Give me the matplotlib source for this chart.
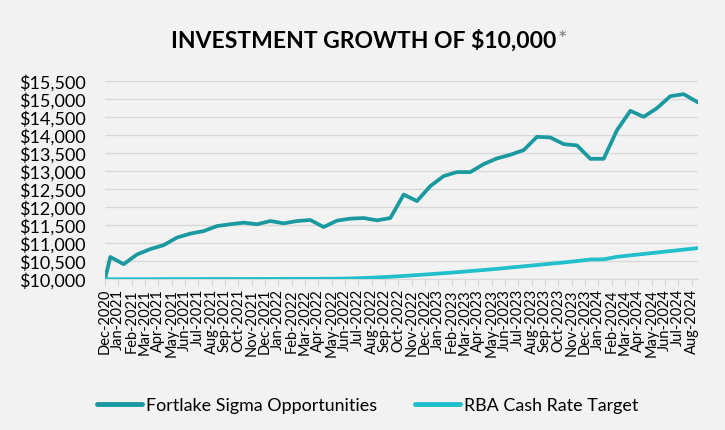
import matplotlib
matplotlib.use("Agg")
import matplotlib.pyplot as plt
import numpy as np

plt.rcParams['font.family'] = ['Lato', 'DejaVu Sans']

months = ['Dec-2020', 'Jan-2021', 'Feb-2021', 'Mar-2021', 'Apr-2021', 'May-2021', 'Jun-2021',
          'Jul-2021', 'Aug-2021', 'Sep-2021', 'Oct-2021', 'Nov-2021', 'Dec-2021', 'Jan-2022',
          'Feb-2022', 'Mar-2022', 'Apr-2022', 'May-2022', 'Jun-2022', 'Jul-2022', 'Aug-2022',
          'Sep-2022', 'Oct-2022', 'Nov-2022', 'Dec-2022', 'Jan-2023', 'Feb-2023', 'Mar-2023',
          'Apr-2023', 'May-2023', 'Jun-2023', 'Jul-2023', 'Aug-2023', 'Sep-2023', 'Oct-2023',
          'Nov-2023', 'Dec-2023', 'Jan-2024', 'Feb-2024', 'Mar-2024', 'Apr-2024', 'May-2024',
          'Jun-2024', 'Jul-2024', 'Aug-2024']

start_value = 10000

fortlake = [10620, 10420, 10690, 10840, 10950, 11160, 11270, 11340, 11480, 11530,
            11575, 11530, 11620, 11556, 11620, 11648, 11453, 11630, 11686, 11703,
            11639, 11703, 12355, 12175, 12592, 12870, 12981, 12981, 13203, 13361,
            13462, 13592, 13961, 13944, 13758, 13722, 13350, 13350, 14147, 14684,
            14517, 14759, 15092, 15148, 14934]

rba = [10001, 10002, 10003, 10003, 10004, 10005, 10006, 10007, 10008, 10008,
       10009, 10010, 10011, 10012, 10013, 10013, 10014, 10017, 10024, 10035,
       10051, 10071, 10093, 10117, 10143, 10169, 10197, 10228, 10258, 10291,
       10326, 10361, 10397, 10432, 10468, 10506, 10550, 10555, 10625, 10665,
       10705, 10745, 10785, 10825, 10865]

bg = '#F2F2F2'
grid_col = '#D9D9D9'
teal = '#1A9AA0'
cyan = '#1FBFCB'

# month-end points sit a little past each tick, series starts on the first tick
x_pts = np.concatenate([[0], np.arange(len(months)) + 0.4])

fig = plt.figure(figsize=(7.25, 4.3), dpi=100, facecolor=bg)
ax = fig.add_axes([0.1448, 0.3505, 0.8175, 0.46])
ax.set_facecolor(bg)

ax.plot(x_pts, [start_value] + fortlake, color=teal, lw=2.7, label='Fortlake Sigma Opportunities',
        solid_joinstyle='round', zorder=3)
ax.plot(x_pts, [start_value] + rba, color=cyan, lw=2.7, label='RBA Cash Rate Target',
        solid_joinstyle='round', zorder=3)

ax.set_xlim(0, 44.45)
ax.set_ylim(10000, 15500)
ax.set_yticks(np.arange(10000, 15501, 500))
ax.set_yticklabels(['${:,.0f}'.format(v) for v in np.arange(10000, 15501, 500)], fontsize=13)
ax.set_xticks(np.arange(len(months)))
ax.set_xticklabels(months, rotation=90, fontsize=10.5)

ax.grid(axis='y', color=grid_col, lw=1)
ax.set_axisbelow(True)
for s in ['top', 'right', 'left']:
    ax.spines[s].set_visible(False)
ax.spines['bottom'].set_color(grid_col)
ax.tick_params(axis='y', length=0, pad=14, colors='#000000')
ax.tick_params(axis='x', length=5, color=grid_col, pad=2)

title = fig.text(0.236, 0.905, 'INVESTMENT GROWTH OF $10,000', fontsize=16.5, fontweight='bold',
                 ha='left', va='center')
ax.annotate('*', xy=(1, 0.55), xycoords=title, xytext=(1, 0), textcoords='offset points',
            fontsize=16, color='#7F7F7F', ha='left', va='center')

leg = fig.legend(loc='center', bbox_to_anchor=(0.507, 0.0565), ncol=2, frameon=False, fontsize=12.9,
                 handlelength=2.5, columnspacing=2.1, handletextpad=0.25)
for line in leg.get_lines():
    line.set_linewidth(3.5)
    line.set_solid_capstyle('round')

fig.savefig('out.png', dpi=100, facecolor=bg)
